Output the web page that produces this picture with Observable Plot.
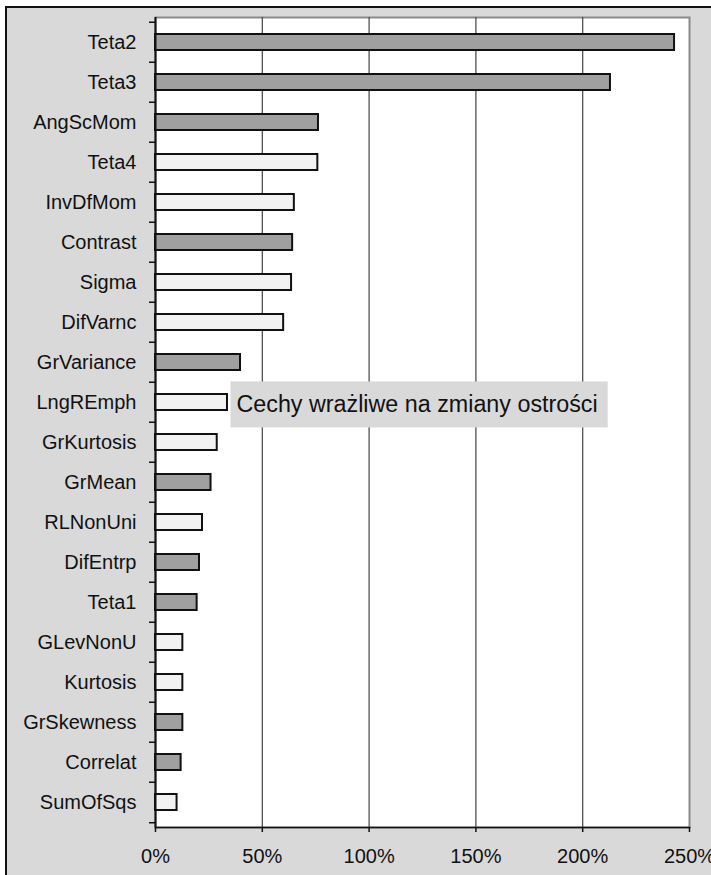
<!DOCTYPE html>
<html><head><meta charset="utf-8">
<script src="https://cdn.jsdelivr.net/npm/d3@7"></script>
<script src="https://cdn.jsdelivr.net/npm/@observablehq/plot@0.6"></script>
<style>
body{margin:0;background:white;}
#wrap{position:relative;width:711px;height:875px;overflow:hidden;}
#bg{position:absolute;left:5px;top:6px;right:-10px;bottom:-10px;background:#d9d9d9;border-left:2px solid #111;border-top:2px solid #111;}
#wrap svg{position:absolute;left:0;top:0;}
</style></head><body><div id="wrap"><div id="bg"></div></div>
<script>
const features = ["Teta2","Teta3","AngScMom","Teta4","InvDfMom","Contrast","Sigma","DifVarnc","GrVariance","LngREmph","GrKurtosis","GrMean","RLNonUni","DifEntrp","Teta1","GLevNonU","Kurtosis","GrSkewness","Correlat","SumOfSqs"];
const values = [243,213,76.3,76,65,64.2,63.7,60,39.8,33.7,28.9,26,22,20.6,19.5,12.8,12.8,12.8,12,10.1];
const sensitive = [true,true,true,false,false,true,false,false,true,false,false,true,false,true,true,false,false,true,true,false];
const xTicks = [0,50,100,150,200,250];
const gridTicks = [50,100,150,200];
const annotationText = "Cechy wrażliwe na zmiany ostrości";
const annotationX = 35.1;
const annotationFeature = "LngREmph";

const data = features.map((f,i)=>({feature:f, value:values[i], sensitive:sensitive[i]}));
const notes = [{x:annotationX, y:annotationFeature, label:annotationText}];
const H = 875, mT = 17, mB = 48;
const step = (H - mT - mB) / features.length;
const font = "'Liberation Sans', Arial, sans-serif";

const chart = Plot.plot({
  width: 711, height: H,
  marginLeft: 155, marginRight: 22, marginTop: mT, marginBottom: mB,
  style: {background: "transparent", fontFamily: font, color: "#111", overflow: "visible"},
  x: {domain: [0, 250], label: null, axis: null},
  y: {domain: features, paddingInner: 0.6, paddingOuter: 0.3, label: null, axis: null},
  color: {type: "identity"},
  marks: [
    Plot.frame({fill: "white", stroke: "#8a8a8a", strokeWidth: 2}),
    Plot.ruleX(gridTicks, {stroke: "#444", strokeWidth: 1.2}),
    Plot.barX(data, {x: "value", y: "feature", fill: d => d.sensitive ? "#a0a0a0" : "#f2f2f2", stroke: "#111", strokeWidth: 2}),
    Plot.ruleX([0], {stroke: "#111", strokeWidth: 2}),
    Plot.frame({anchor: "bottom", stroke: "#111", strokeWidth: 1.5}),
    Plot.axisY({tickSize: 6, text: null, dy: -step/2, stroke: "#111", strokeWidth: 1.5}),
    Plot.axisY({ticks: [features[features.length-1]], tickSize: 6, text: null, dy: step/2, stroke: "#111", strokeWidth: 1.5}),
    Plot.axisY({tickSize: 0, tickPadding: 19, fontSize: 20, fill: "#111"}),
    Plot.axisX({ticks: xTicks, tickFormat: d => d + "%", tickSize: 5, tickPadding: 16, fontSize: 20, stroke: "#111", strokeWidth: 1.5, fill: "#111"}),
    Plot.text(notes, {x: "x", y: "y", text: "label", textAnchor: "start", dx: 6, dy: 2, fontSize: 23.3, fill: "#111"})
  ]
});
document.getElementById("wrap").append(chart);
// background box behind the annotation
const t = Array.from(chart.querySelectorAll("text")).find(e => e.textContent === annotationText);
if (t) {
  const b = t.getBBox();
  const r = document.createElementNS("http://www.w3.org/2000/svg", "rect");
  r.setAttribute("x", b.x - 6);
  r.setAttribute("y", b.y - 9.5);
  r.setAttribute("width", b.width + 16);
  r.setAttribute("height", b.height + 20);
  r.setAttribute("fill", "#d9d9d9");
  const tr = t.getAttribute("transform");
  if (tr) r.setAttribute("transform", tr);
  t.parentNode.insertBefore(r, t);
}
</script>
</body></html>
